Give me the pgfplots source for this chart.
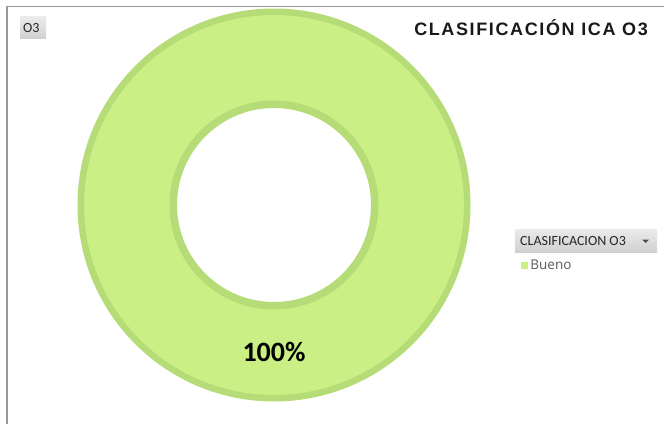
\documentclass[border=0pt]{standalone}
\usepackage{pgfplots}
\pgfplotsset{compat=1.18}
\usepackage{fontspec}
\setmainfont{Carlito}
\newfontfamily\titlefont[LetterSpace=9]{Liberation Sans}
\newfontfamily\legfont{Open Sans}
\definecolor{ringfill}{HTML}{C9EF85}
\definecolor{ringedge}{HTML}{B6DC78}
\definecolor{btntop}{HTML}{EBEBEB}
\definecolor{btnbot}{HTML}{D0D0D0}
\definecolor{legtext}{HTML}{595959}
\begin{document}
\begin{tikzpicture}
\useasboundingbox (0,0) rectangle (664bp,424bp);
\begin{axis}[at={(0,0)}, anchor=south west,
  width=664bp, height=424bp, scale only axis,
  xmin=0, xmax=664, ymin=0, ymax=424, y dir=reverse,
  hide axis, clip=false,
  legend style={at={(axis cs:521,265.5)}, anchor=west, draw=none, fill=none,
    inner sep=0pt, outer sep=0pt,
    font=\legfont\fontsize{13.5bp}{15bp}\selectfont, text=legtext,
    nodes={inner sep=1bp}},
  legend cell align=left,
]
% frame lines
\draw[black!40, line width=1.5bp] (axis cs:7,424) -- (axis cs:7,6.5) -- (axis cs:664,6.5);
% ring (single category, 100%)
\addplot[only marks, mark=*, mark size=193.25bp,
  mark options={fill=ringfill, draw=ringedge, line width=6.5bp},
  legend image code/.code={\fill[ringfill] (0bp,-3bp) rectangle (6bp,3bp);}]
  coordinates {(274,205)};
\addlegendentry{\hspace{2bp}Bueno}
\addplot[only marks, mark=*, mark size=100.75bp,
  mark options={fill=white, draw=ringedge, line width=7.5bp}, forget plot]
  coordinates {(274,205)};
% data label (value 100 %)
\addplot[only marks, mark=none, forget plot, point meta=explicit,
  /pgf/number format/assume math mode=true,
  nodes near coords={\pgfmathprintnumber{\pgfplotspointmeta}\%},
  every node near coord/.style={anchor=center, inner sep=0pt,
    font=\bfseries\fontsize{28bp}{30bp}\selectfont, text=black}]
  coordinates {(274,352) [100]};
% title
\node[anchor=base east, inner sep=0pt, font=\titlefont\bfseries\fontsize{18bp}{20bp}\selectfont, text=black!90]
  at (axis cs:648,36) {CLASIFICACIÓN ICA O3};
% field button O3
\shade[top color=btntop, bottom color=btnbot] (axis cs:20,17) rectangle (axis cs:46,39);
\node[anchor=base west, inner sep=0pt, font=\fontsize{14bp}{16bp}\selectfont, text=black!85]
  at (axis cs:23,32.5) {O3};
% legend header button
\shade[top color=btntop, bottom color=btnbot] (axis cs:515,229) rectangle (axis cs:657,252);
\node[anchor=base west, inner sep=0pt, font=\fontsize{14bp}{16bp}\selectfont, text=black!85]
  at (axis cs:520,245) {CLASIFICACION O3};
\fill[black!70] (axis cs:642,239.5) -- (axis cs:649,239.5) -- (axis cs:645.5,243) -- cycle;
\end{axis}
\end{tikzpicture}
\end{document}
